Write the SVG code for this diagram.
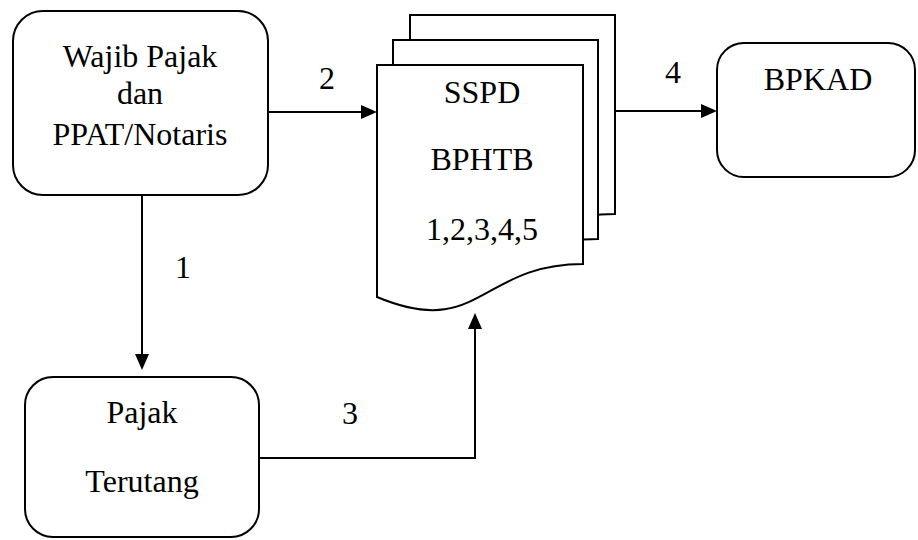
<svg xmlns="http://www.w3.org/2000/svg" width="918" height="540" viewBox="0 0 918 540">
  <style>
    .box { fill: #ffffff; stroke: #000000; stroke-width: 2; }
    .page { fill: #ffffff; stroke: #000000; stroke-width: 2; stroke-linejoin: miter; }
    .edge { fill: none; stroke: #000000; stroke-width: 2; marker-end: url(#head); }
    .lbl { font-family: "Liberation Serif", "Times New Roman", serif; font-size: 32px; fill: #000000; text-anchor: middle; }
  </style>
  <defs>
    <marker id="head" viewBox="0 0 16 14" markerWidth="16" markerHeight="14" refX="8" refY="7" orient="auto" markerUnits="userSpaceOnUse">
      <path d="M0,0 L16,7 L0,14 Z" fill="#000000"/>
    </marker>
  </defs>
  <rect width="918" height="540" fill="#ffffff"/>

  <!-- connectors and their step numbers -->
  <g id="connectors">
    <path class="edge" d="M142,195 V362"/>
    <path class="edge" d="M268,112 H369"/>
    <path class="edge" d="M259,458 H475 V321"/>
    <path class="edge" d="M615,111 H709"/>
    <text class="lbl" x="183" y="278">1</text>
    <text class="lbl" x="327" y="89">2</text>
    <text class="lbl" x="350" y="424">3</text>
    <text class="lbl" x="673" y="83">4</text>
  </g>

  <!-- taxpayer and notary -->
  <g id="wajib-pajak">
    <rect class="box" x="13" y="11" width="255" height="184" rx="30" ry="30"/>
    <text class="lbl" x="140" y="67">Wajib Pajak</text>
    <text class="lbl" x="140" y="104">dan</text>
    <text class="lbl" x="140" y="145">PPAT/Notaris</text>
  </g>

  <!-- tax owed -->
  <g id="pajak-terutang">
    <rect class="box" x="25" y="377" width="234" height="160" rx="28" ry="28"/>
    <text class="lbl" x="142" y="423">Pajak</text>
    <text class="lbl" x="142" y="492">Terutang</text>
  </g>

  <!-- stacked SSPD BPHTB copies, back to front -->
  <g id="sspd-bphtb">
    <path class="page" d="M410,15 H615 V214 C512,214 512,290 410,247 Z"/>
    <path class="page" d="M393,40 H598 V239 C495,239 495,315 393,272 Z"/>
    <path class="page" d="M377,65 H583 V264 C480,264 480,340 377,297 Z"/>
    <text class="lbl" x="482" y="103">SSPD</text>
    <text class="lbl" x="482" y="170">BPHTB</text>
    <text class="lbl" x="482" y="240">1,2,3,4,5</text>
  </g>

  <!-- regional finance office -->
  <g id="bpkad">
    <rect class="box" x="717" y="43" width="198" height="134" rx="27" ry="27"/>
    <text class="lbl" x="818" y="90">BPKAD</text>
  </g>
</svg>
